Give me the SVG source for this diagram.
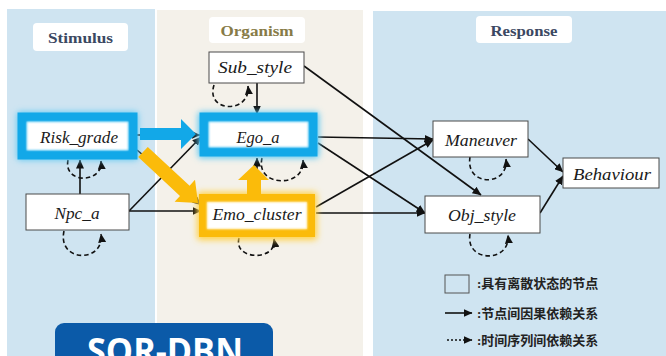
<svg xmlns="http://www.w3.org/2000/svg" width="666" height="356" viewBox="0 0 666 356">
  <defs>
    <style>
      .panel-s { fill: #cfe4f1; }
      .panel-o { fill: #f4f1ea; }
      .panel-r { fill: #cfe4f1; }
      .tag { fill: #ffffff; }
      .tag-text { font-family: "Liberation Serif", "DejaVu Serif", serif; font-weight: bold; font-size: 15px; text-anchor: middle; }
      .node { fill: #ffffff; stroke: #4a4a4a; stroke-width: 1; }
      .label { font-family: "Liberation Serif", "DejaVu Serif", serif; font-style: italic; font-size: 17px; fill: #1a1a1a; text-anchor: middle; }
      .edge { fill: none; stroke: #111; stroke-width: 1.6; marker-end: url(#arrow); }
      .loop { fill: none; stroke: #111; stroke-width: 1.6; stroke-dasharray: 4.5 3; marker-end: url(#arrow); }
      .legend { font-family: "Liberation Serif", "Noto Sans CJK SC", serif; font-weight: bold; font-size: 13px; fill: #222; }
    </style>
    <marker id="arrow" markerUnits="userSpaceOnUse" markerWidth="9" markerHeight="8" refX="8.5" refY="4" orient="auto">
      <path d="M0,0 L9,4 L0,8 Z" fill="#111"/>
    </marker>
    <filter id="soft" x="-30%" y="-60%" width="160%" height="220%">
      <feGaussianBlur stdDeviation="3"/>
    </filter>
    <filter id="inner" x="-10%" y="-30%" width="120%" height="160%">
      <feGaussianBlur stdDeviation="1.2"/>
    </filter>
  </defs>

  <!-- background panels -->
  <rect width="666" height="356" fill="#ffffff"/>
  <rect class="panel-s" x="7" y="9" width="148" height="347"/>
  <rect class="panel-o" x="157" y="10" width="206" height="346"/>
  <rect class="panel-r" x="373" y="11" width="293" height="345"/>

  <!-- panel titles -->
  <g id="title-stimulus">
    <rect class="tag" x="33" y="23" width="95" height="28" rx="4"/>
    <text class="tag-text" x="80.5" y="43" fill="#3b4862" textLength="65" lengthAdjust="spacingAndGlyphs">Stimulus</text>
  </g>
  <g id="title-organism">
    <rect class="tag" x="209" y="17" width="96" height="26" rx="4"/>
    <text class="tag-text" x="257" y="36" fill="#877b47" textLength="73" lengthAdjust="spacingAndGlyphs">Organism</text>
  </g>
  <g id="title-response">
    <rect class="tag" x="476" y="16" width="96" height="27" rx="4"/>
    <text class="tag-text" x="524" y="36" fill="#3b4862" textLength="67" lengthAdjust="spacingAndGlyphs">Response</text>
  </g>

  <!-- connectors -->
  <g id="connectors">
    <path class="edge" d="M257,83 L257,114"/>
    <path class="edge" d="M304,66 L481,195"/>
    <path class="edge" d="M137,135 L200,135"/>
    <path class="edge" d="M137,150 L201,205"/>
    <path class="edge" d="M80,194 L80,160"/>
    <path class="edge" d="M129,211 L201,137"/>
    <path class="edge" d="M129,211 L201,211"/>
    <path class="edge" d="M257,194 L257,158"/>
    <path class="edge" d="M318,137 L433,139"/>
    <path class="edge" d="M318,143 L425,213"/>
    <path class="edge" d="M316,207 L433,140"/>
    <path class="edge" d="M316,213 L425,213"/>
    <path class="edge" d="M528,139 L563,172"/>
    <path class="edge" d="M540,213 L563,176"/>
    <!-- temporal self-dependencies -->
    <path class="loop" d="M214,85 C205,113 251,114 248,86"/>
    <path class="loop" d="M68,160 C63,184 103,184 101,161"/>
    <path class="loop" d="M64,231 C57,263 105,263 101,234"/>
    <path class="loop" d="M262,158 C255,188 306,188 303,160"/>
    <path class="loop" d="M239,238 C233,261 278,261 274,239"/>
    <path class="loop" d="M470,157 C465,187 509,187 506,159"/>
    <path class="loop" d="M470,234 C465,263 511,263 508,235"/>
  </g>

  <!-- nodes -->
  <g id="node-sub-style">
    <rect class="node" x="209" y="52" width="95" height="31"/>
    <text class="label" x="255" y="73" textLength="74" lengthAdjust="spacingAndGlyphs">Sub_style</text>
  </g>

  <g id="node-risk-grade">
    <rect x="17" y="112" width="121" height="48" rx="3" fill="#5cc8f3" filter="url(#soft)"/>
    <rect x="22" y="117" width="111" height="38" fill="none" stroke="#12a8e8" stroke-width="9"/>
    <rect x="27" y="122" width="101" height="28" fill="#ffffff" filter="url(#inner)"/>
    <text class="label" x="79" y="143" textLength="78" lengthAdjust="spacingAndGlyphs">Risk_grade</text>
  </g>

  <g id="node-ego-a">
    <rect x="198" y="112" width="121" height="46" rx="3" fill="#5cc8f3" filter="url(#soft)"/>
    <rect x="204" y="117" width="109" height="35" fill="none" stroke="#12a8e8" stroke-width="9"/>
    <rect x="209" y="122" width="99" height="25" fill="#ffffff" filter="url(#inner)"/>
    <text class="label" x="258" y="143" textLength="43" lengthAdjust="spacingAndGlyphs">Ego_a</text>
  </g>

  <g id="node-npc-a">
    <rect class="node" x="26" y="194" width="103" height="36"/>
    <text class="label" x="77" y="219" textLength="45" lengthAdjust="spacingAndGlyphs">Npc_a</text>
  </g>

  <g id="node-emo-cluster">
    <rect x="197" y="192" width="120" height="48" rx="3" fill="#ffd24a" filter="url(#soft)"/>
    <rect x="203" y="198" width="108" height="35" fill="none" stroke="#fbbb0a" stroke-width="8"/>
    <rect x="207" y="202" width="100" height="27" fill="#ffffff" filter="url(#inner)"/>
    <text class="label" x="257" y="220" textLength="89" lengthAdjust="spacingAndGlyphs">Emo_cluster</text>
  </g>

  <g id="node-maneuver">
    <rect class="node" x="433" y="121" width="95" height="36"/>
    <text class="label" x="481" y="146" textLength="72" lengthAdjust="spacingAndGlyphs">Maneuver</text>
  </g>

  <g id="node-obj-style">
    <rect class="node" x="425" y="196" width="115" height="37"/>
    <text class="label" x="482" y="221" textLength="68" lengthAdjust="spacingAndGlyphs">Obj_style</text>
  </g>

  <g id="node-behaviour">
    <rect class="node" x="563" y="158" width="96" height="30"/>
    <text class="label" x="612" y="180" textLength="78" lengthAdjust="spacingAndGlyphs">Behaviour</text>
  </g>

  <!-- highlighted paths -->
  <g id="highlight-arrows">
    <polygon fill="#12a8e8" points="140,128 181,128 181,119 196,134 181,149 181,140 140,140"/>
    <polygon fill="#fbbb0a" points="138.2,157.1 180,195.9 174.6,201.8 198,203 195,179.8 189.6,185.7 147.8,146.9"/>
    <polygon fill="#fbbb0a" points="247,196 247,180 238,180 254,165 269,180 261,180 261,196"/>
  </g>

  <!-- legend -->
  <g id="legend">
    <rect x="445" y="275" width="24" height="18" fill="none" stroke="#555" stroke-width="1"/>
    <text class="legend" x="477" y="288">:具有离散状态的节点</text>
    <path class="edge" d="M445,313 L472,313" stroke-width="1.6"/>
    <text class="legend" x="477" y="318">:节点间因果依赖关系</text>
    <path class="edge" d="M447,340 L472,340" stroke-dasharray="2 2"/>
    <text class="legend" x="477" y="345">:时间序列间依赖关系</text>
  </g>

  <!-- badge -->
  <g id="badge">
    <rect x="55" y="323" width="218" height="50" rx="9" fill="#0b5aa8"/>
    <text x="165" y="364" font-family="'Open Sans', 'DejaVu Sans', sans-serif" font-weight="bold" font-size="35" fill="#ffffff" text-anchor="middle" textLength="156" lengthAdjust="spacingAndGlyphs">SOR-DBN</text>
  </g>
</svg>
